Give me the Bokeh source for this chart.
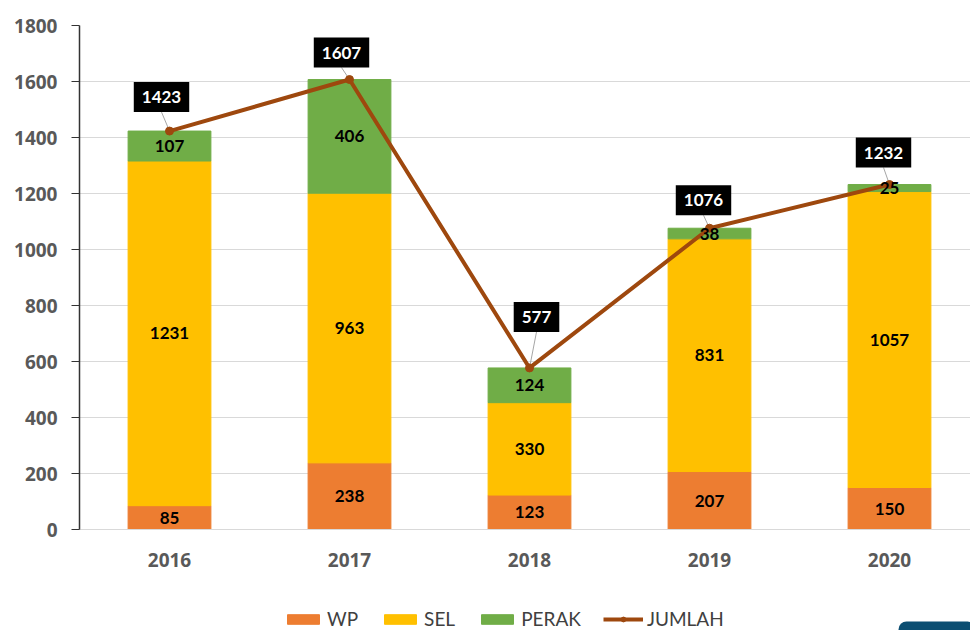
from bokeh.plotting import figure
from bokeh.layouts import column
from bokeh.models import (ColumnDataSource, Range1d, FixedTicker, Legend, LegendItem,
                          LabelSet, BoxAnnotation)
from bokeh.core.properties import value
from bokeh.embed import file_html
from bokeh.resources import INLINE

# ---- data ----
years = ["2016", "2017", "2018", "2019", "2020"]
wp = [85, 238, 123, 207, 150]
sel = [1231, 963, 330, 831, 1057]
perak = [107, 406, 124, 38, 25]
jumlah = [1423, 1607, 577, 1076, 1232]
y_ticks = [0, 200, 400, 600, 800, 1000, 1200, 1400, 1600, 1800]

# ---- styles ----
C_WP, C_SEL, C_PERAK, C_LINE = "#ED7D31", "#FFC000", "#70AD47", "#9E480E"
FONT = "Lato"
AXFONT = "Open Sans"
# pixel offsets of the total-label boxes relative to their points (style only)
label_dy = [34, 27, 51, 28, 32]
label_dx = [-8, -8, 7, -6, -6]

x = list(range(len(years)))
wp_top = wp
sel_bot = wp
sel_top = [a + b for a, b in zip(wp, sel)]
per_bot = sel_top
per_top = [a + b for a, b in zip(sel_top, perak)]

src = ColumnDataSource(dict(
    x=x, wp=wp, sel=sel, perak=perak, jumlah=jumlah,
    wp_top=wp_top, sel_bot=sel_bot, sel_top=sel_top, per_bot=per_bot, per_top=per_top,
    wp_mid=[b / 2 for b in wp_top],
    sel_mid=[(a + b) / 2 for a, b in zip(sel_bot, sel_top)],
    per_mid=[(a + b) / 2 for a, b in zip(per_bot, per_top)],
    wp_txt=[str(v) for v in wp], sel_txt=[str(v) for v in sel],
    per_txt=[str(v) for v in perak], jum_txt=[str(v) for v in jumlah],
    ndy=[-d for d in label_dy], dx=label_dx,
))

PX_Y = 1800 / 504.0   # data units per pixel (y)
PX_X = 1 / 180.0      # data units per pixel (x)
lead_src = ColumnDataSource(dict(
    x0=x, y0=jumlah,
    x1=[xi + dx * PX_X for xi, dx in zip(x, label_dx)],
    y1=[j + (d - 15) * PX_Y for j, d in zip(jumlah, label_dy)]))

p = figure(width=970, height=577, output_backend="svg", toolbar_location=None,
           x_range=Range1d(-0.5, 4.45), y_range=Range1d(0, 1800),
           min_border_left=79, min_border_top=25, min_border_right=0, min_border_bottom=48)
p.outline_line_color = None
p.background_fill_color = "white"

b1 = p.vbar(x="x", bottom=0, top="wp_top", width=0.46, color=C_WP, source=src)
b2 = p.vbar(x="x", bottom="sel_bot", top="sel_top", width=0.46, color=C_SEL, source=src)
b3 = p.vbar(x="x", bottom="per_bot", top="per_top", width=0.46, color=C_PERAK, source=src)

p.segment(x0="x0", y0="y0", x1="x1", y1="y1", source=lead_src, line_color="#A6A6A6", line_width=1)

ln = p.line(x="x", y="jumlah", source=src, line_color=C_LINE, line_width=4)
sc = p.scatter(x="x", y="jumlah", source=src, size=8, fill_color=C_LINE, line_color=C_LINE)

for ycol, tcol in [("wp_mid", "wp_txt"), ("sel_mid", "sel_txt"), ("per_mid", "per_txt")]:
    p.add_layout(LabelSet(x="x", y=ycol, text=tcol, source=src, text_align="center",
                          text_baseline="middle", text_font=value(FONT), text_font_style="bold",
                          text_font_size="17px", text_color="black"))

p.text(x="x", y="jumlah", text="jum_txt", source=src, y_offset="ndy", x_offset="dx",
       text_align="center", text_baseline="middle", text_font=value(FONT),
       text_font_style="bold", text_font_size="17px", text_color="white",
       background_fill_color="black", padding=dict(left=8, right=8, top=9, bottom=9))

# axes
p.yaxis.ticker = FixedTicker(ticks=y_ticks)
p.xaxis.ticker = FixedTicker(ticks=x)
p.xaxis.major_label_overrides = {i: y for i, y in enumerate(years)}
for ax in (p.xaxis, p.yaxis):
    ax.major_label_text_font = AXFONT
    ax.major_label_text_font_style = "bold"
    ax.major_label_text_font_size = "19px"
    ax.major_label_text_color = "#595959"
    ax.minor_tick_line_color = None
p.yaxis.axis_line_color = "#333333"
p.yaxis.axis_line_width = 1.5
p.yaxis.major_tick_line_color = "#333333"
p.yaxis.major_tick_in = 0
p.yaxis.major_tick_out = 8
p.yaxis.major_label_standoff = 14
p.xaxis.axis_line_color = "#D9D9D9"
p.xaxis.major_tick_line_color = None
p.xaxis.major_tick_in = 0
p.xaxis.major_tick_out = 0
p.xaxis.major_label_standoff = 23
p.xgrid.grid_line_color = None
p.ygrid.grid_line_color = "#D9D9D9"

# ---- legend strip (its frame is aligned with the main frame, which starts 79px in) ----
lg = figure(width=970, height=53, output_backend="svg", toolbar_location=None,
            x_range=Range1d(79, 970), y_range=Range1d(0, 53),
            x_axis_location=None, y_axis_location=None,
            min_border_left=79, min_border_right=0, min_border_top=0, min_border_bottom=0)
lg.outline_line_color = None
lg.grid.grid_line_color = None
# one off-screen point per series so the legend can draw its glyphs
dummy = ColumnDataSource(dict(x=[-1000], y=[-1000], t=[-1000], b=[-1001]))
r1 = lg.vbar(x="x", top="t", bottom="b", width=1, color=C_WP, source=dummy)
r2 = lg.vbar(x="x", top="t", bottom="b", width=1, color=C_SEL, source=dummy)
r3 = lg.vbar(x="x", top="t", bottom="b", width=1, color=C_PERAK, source=dummy)
r4 = lg.line(x="x", y="y", line_color=C_LINE, line_width=4, source=dummy)
r5 = lg.scatter(x="x", y="y", size=8, fill_color=C_LINE, line_color=C_LINE, source=dummy)

legend = Legend(items=[
    LegendItem(label="WP", renderers=[r1]),
    LegendItem(label="SEL", renderers=[r2]),
    LegendItem(label="PERAK", renderers=[r3]),
    LegendItem(label="JUMLAH", renderers=[r4, r5]),
], orientation="horizontal", location=(204, 0), border_line_color=None,
    label_text_font=FONT, label_text_font_size="19px", label_text_color="#404040",
    glyph_width=40, glyph_height=12, label_standoff=4, spacing=22, padding=0, margin=0,
    background_fill_alpha=0)
lg.add_layout(legend)

lg.add_layout(BoxAnnotation(left=898, right=975, bottom=-10, top=9, fill_color="#0C4E72",
                            fill_alpha=1, line_color=None, border_radius=8))

layout = column(p, lg, spacing=0)
open("out.html", "w").write(file_html(layout, INLINE))
